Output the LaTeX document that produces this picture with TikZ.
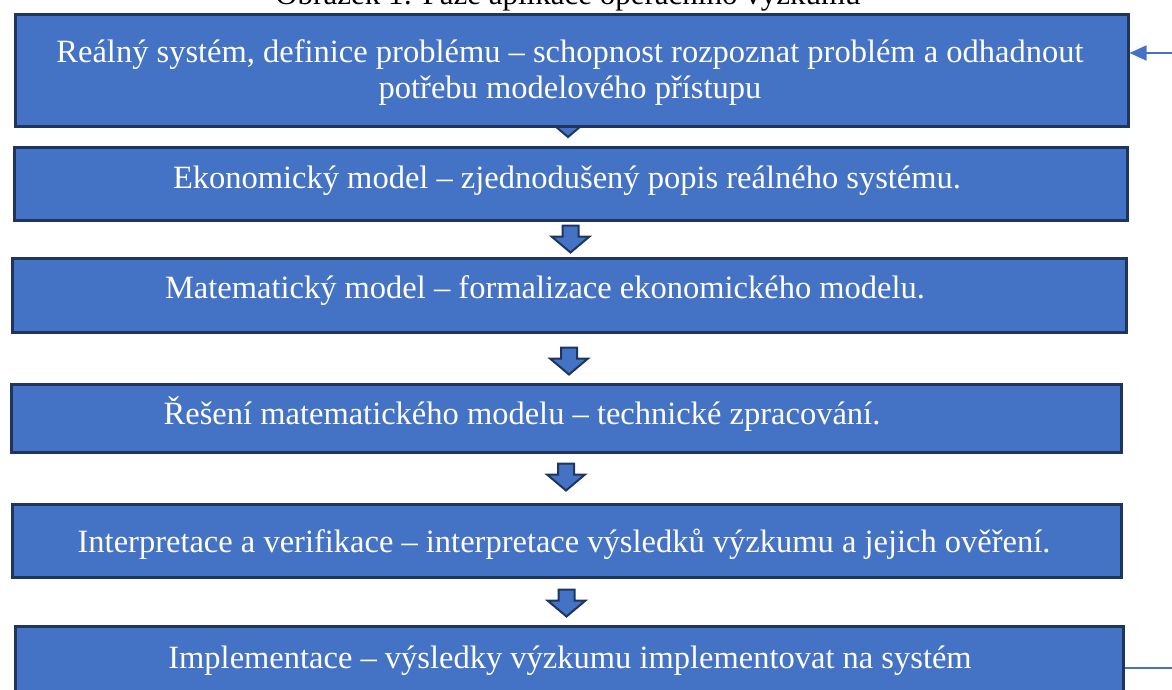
\documentclass[tikz,border=0pt]{standalone}
\usepackage{fontspec}
\setmainfont{Liberation Serif}
\usetikzlibrary{arrows.meta,calc}
\definecolor{boxblue}{HTML}{4472C4}
\definecolor{boxdark}{HTML}{1F3560}
\tikzset{
  stage/.style={draw=boxdark, fill=boxblue, line width=3pt, inner sep=0pt, anchor=north west},
  stagetext/.style={text=white, font=\fontsize{32.5}{36}\selectfont, inner sep=0pt, anchor=base},
  flow/.style={draw=boxdark, fill=boxblue, line width=2pt, line join=miter},
  feedback/.style={draw=boxblue, line width=1.8pt},
  pics/downarrow/.style={code={
    \path[flow] (-8,0) -- (8,0) -- (8,11) -- (19,11) -- (0,27) -- (-19,11) -- (-8,11) -- cycle;
  }}
}
\begin{document}
\begin{tikzpicture}[x=1pt,y=-1pt]
\useasboundingbox (0,0) rectangle (1172,690);
% title (cut off by the top edge)
\node[anchor=base, inner sep=0pt, font=\fontsize{31}{36}\selectfont] (title) at (568,5) {Obrázek 1: Fáze aplikace operačního výzkumu};
% first arrow, partly hidden
\pic at (568,110) {downarrow};
% boxes
\node[stage, minimum width=1113pt, minimum height=112pt] (b1) at (13.5,13.5) {};
\node[stage, minimum width=1113pt, minimum height=73pt] (b2) at (12.5,145.5) {};
\node[stage, minimum width=1114pt, minimum height=74pt] (b3) at (10.5,256.5) {};
\node[stage, minimum width=1110pt, minimum height=68pt] (b4) at (9.5,382.5) {};
\node[stage, minimum width=1109pt, minimum height=73pt] (b5) at (10.5,502.5) {};
\node[stage, minimum width=1108pt, minimum height=80pt] (b6) at (13.5,624.5) {};
% texts
\node[stagetext, align=center, anchor=north] (t1) at (570,39) {Reálný systém, definice problému – schopnost rozpoznat problém a odhadnout\\potřebu modelového přístupu};
\node[stagetext] (t2) at (567,188) {Ekonomický model – zjednodušený popis reálného systému.};
\node[stagetext] (t3) at (545,298) {Matematický model – formalizace ekonomického modelu.};
\node[stagetext] (t4) at (522,424) {Řešení matematického modelu – technické zpracování.};
\node[stagetext] (t5) at (564,552) {Interpretace a verifikace – interpretace výsledků výzkumu a jejich ověření.};
\node[stagetext] (t6) at (570,668) {Implementace – výsledky výzkumu implementovat na systém};
% block arrows between stages
\pic at ($(b2.south)+(0,4)$) {downarrow};
\pic at ($(b3.south)+(0,14)$) {downarrow};
\pic at ($(b4.south)+(0,10)$) {downarrow};
\pic at ($(b5.south)+(0,11)$) {downarrow};
% feedback lines
\coordinate (fbin) at (1172,53);
\coordinate (fbout) at (1172,668);
\draw[feedback, -{Triangle[length=17pt,width=15pt]}] (fbin) -- (b1.east |- fbin);
\draw[feedback] (b6.east |- fbout) -- (fbout);
\end{tikzpicture}
\end{document}
